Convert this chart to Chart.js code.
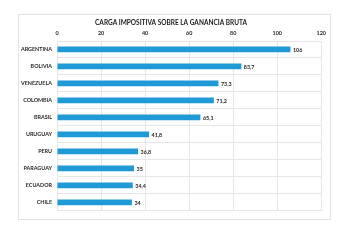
<!DOCTYPE html>
<html>
<head>
<meta charset="utf-8">
<script src="https://cdn.jsdelivr.net/npm/chart.js@4/dist/chart.umd.min.js"></script>
<style>
  html, body { margin: 0; padding: 0; background: #fff; }
  body { width: 350px; height: 241px; position: relative; overflow: hidden; }
  #frame {
    position: absolute; left: 18px; top: 14px;
    width: 311px; height: 204px;
    border: 1px solid #e3e3e3;
  }
</style>
</head>
<body>
<div id="frame"><canvas id="cargaChart" width="311" height="204"></canvas></div>
<script>
var paises = ['ARGENTINA', 'BOLIVIA', 'VENEZUELA', 'COLOMBIA', 'BRASIL', 'URUGUAY', 'PERU', 'PARAGUAY', 'ECUADOR', 'CHILE'];
var carga = [106, 83.7, 73.3, 71.2, 65.1, 41.8, 36.8, 35, 34.4, 34];
var ejeMax = 120;
var ejePaso = 20;

// etiquetas de valor al final de cada barra (coma decimal)
var valorLabels = {
    id: 'valorLabels',
    afterDatasetsDraw: function(chart) {
        var ctx = chart.ctx;
        var meta = chart.getDatasetMeta(0);
        ctx.save();
        ctx.font = 'bold 5.4px Lato';
        ctx.fillStyle = '#262626';
        ctx.textAlign = 'left';
        ctx.textBaseline = 'middle';
        meta.data.forEach(function(bar, i) {
            var txt = String(carga[i]).replace('.', ',');
            ctx.fillText(txt, bar.x + 2.5, bar.y + 0.5);
        });
        ctx.restore();
    }
};

var ctx = document.getElementById('cargaChart').getContext('2d');
var cargaChart = new Chart(ctx, {
    type: 'bar',
    data: {
        labels: paises,
        datasets: [{
            data: carga,
            backgroundColor: '#1f9ad6',
            borderWidth: 0,
            barPercentage: 0.34,
            categoryPercentage: 1
        }]
    },
    options: {
        indexAxis: 'y',
        responsive: false,
        animation: false,
        layout: { padding: { left: 0, right: 7, top: 0, bottom: 3 } },
        plugins: {
            legend: { display: false },
            tooltip: { enabled: false },
            title: {
                display: true,
                text: 'CARGA IMPOSITIVA SOBRE LA GANANCIA BRUTA',
                color: '#1a1a1a',
                font: { family: 'Lato', size: 6.5, weight: 'bold' },
                padding: { top: 4, bottom: 0 }
            }
        },
        scales: {
            x: {
                position: 'top',
                min: 0,
                max: ejeMax,
                ticks: {
                    stepSize: ejePaso,
                    color: '#262626',
                    padding: 4,
                    font: { family: 'Lato', size: 5.4, weight: 'bold' }
                },
                grid: { color: '#e6e6e6', drawTicks: false },
                border: { display: false },
                afterFit: function(scale) { scale.height = 14.2; }
            },
            y: {
                ticks: {
                    color: '#262626',
                    padding: 5,
                    font: { family: 'Lato', size: 5.4, weight: 'bold' }
                },
                grid: { color: '#e6e6e6', drawTicks: false },
                border: { display: false },
                afterFit: function(scale) { scale.width = 38; }
            }
        }
    },
    plugins: [valorLabels]
});
</script>
</body>
</html>
